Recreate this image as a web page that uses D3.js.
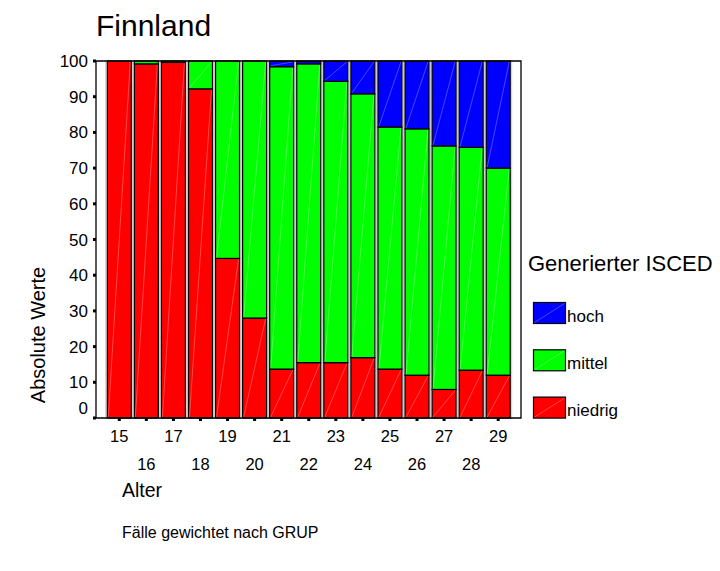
<!DOCTYPE html>
<html>
<head>
<meta charset="utf-8">
<script src="https://cdn.jsdelivr.net/npm/d3@7"></script>
<style>
  html, body { margin: 0; padding: 0; background: #fff; }
  svg { display: block; font-family: "Liberation Sans", Arial, sans-serif; }
</style>
</head>
<body>
<svg id="chart" width="720" height="571"></svg>
<script>
// ---- data ----
const ages = ["15","16","17","18","19","20","21","22","23","24","25","26","27","28","29"];
const niedrig = [100, 99.2, 99.6, 92.2, 44.7, 28.0, 13.7, 15.5, 15.5, 16.9, 13.7, 12.0, 8.0, 13.4, 12.0];
const mittel  = [0,   0.8,  0.4,  7.8, 55.3, 72.0, 84.7, 83.7, 78.8, 73.9, 67.8, 69.0, 68.2, 62.4, 58.0];
const hoch    = [0,   0,    0,    0,    0,    0,    1.6,  0.8,  5.7,  9.2, 18.5, 19.0, 23.8, 24.2, 30.0];
const seriesNames = ["niedrig", "mittel", "hoch"];
const seriesColors = ["#ff0000", "#00ff00", "#0000ff"];
const yTicks = [0, 10, 20, 30, 40, 50, 60, 70, 80, 90, 100];

const table = ages.map((a, i) => ({ age: a, niedrig: niedrig[i], mittel: mittel[i], hoch: hoch[i] }));

const svg = d3.select("#chart");
const pLeft = 96, pRight = 521, pTop = 61, pBottom = 418;

const x = d3.scaleBand().domain(ages).range([105.75, 511.75]).paddingInner(0.114).paddingOuter(0.057);
const y = d3.scaleLinear().domain([0, 100]).range([pBottom, pTop]);

// Title
svg.append("text").attr("x", 96).attr("y", 36).attr("font-size", 30).attr("fill", "#000").text("Finnland");

// bar backgrounds (light grey halo)
svg.append("g").selectAll("rect").data(ages).join("rect")
  .attr("x", d => x(d) - 1.5).attr("y", pTop).attr("width", x.bandwidth() + 3).attr("height", pBottom - pTop)
  .attr("fill", "none").attr("stroke", "#c8c8c8").attr("stroke-width", 1);

const stack = d3.stack().keys(seriesNames)(table);
const gBars = svg.append("g");
stack.forEach((layer, li) => {
  const g = gBars.append("g");
  layer.forEach((seg, i) => {
    if (seg[1] - seg[0] <= 0) return;
    const x0 = x(ages[i]), w = x.bandwidth();
    const y0 = y(seg[1]), h = y(seg[0]) - y(seg[1]);
    g.append("rect").attr("x", x0).attr("y", y0).attr("width", w).attr("height", h)
      .attr("fill", seriesColors[li]).attr("stroke", "#000").attr("stroke-width", 1.2);
    if (h > 3) {
      g.append("line").attr("x1", x0 + 1).attr("y1", y0 + h - 1).attr("x2", x0 + w - 1).attr("y2", y0 + 1)
        .attr("stroke", "rgba(255,255,255,0.35)").attr("stroke-width", 0.8);
    }
  });
});

// frame
svg.append("path").attr("d", `M${pLeft},${pBottom}V${pTop}H${pRight}V${pBottom}Z`)
  .attr("fill", "none").attr("stroke", "#000").attr("stroke-width", 1.3);

// y axis ticks + labels
const yAxis = svg.append("g");
yTicks.forEach(t => {
  yAxis.append("rect").attr("x", pLeft - 3).attr("y", y(t) - 1.5).attr("width", 3).attr("height", 3).attr("fill", "#000");
  yAxis.append("text").attr("x", 88).attr("y", t === 0 ? y(t) - 4 : y(t) + 6)
    .attr("text-anchor", "end").attr("font-size", 17).attr("fill", "#000").text(t);
});

// x axis ticks + labels
const xAxis = svg.append("g");
ages.forEach((a, i) => {
  const cx = x(a) + x.bandwidth() / 2;
  xAxis.append("rect").attr("x", cx - 1.5).attr("y", pBottom).attr("width", 3).attr("height", 3).attr("fill", "#000");
  xAxis.append("text").attr("x", cx).attr("y", i % 2 === 0 ? 442 : 470)
    .attr("text-anchor", "middle").attr("font-size", 16.5).attr("fill", "#000").text(a);
});

// axis titles
svg.append("text").attr("transform", "translate(45,335) rotate(-90)").attr("text-anchor", "middle")
  .attr("font-size", 20).attr("fill", "#000").text("Absolute Werte");
svg.append("text").attr("x", 122).attr("y", 497).attr("font-size", 19.5).attr("fill", "#000").text("Alter");
svg.append("text").attr("x", 122).attr("y", 538).attr("font-size", 16).attr("fill", "#000").text("Fälle gewichtet nach GRUP");

// legend
svg.append("text").attr("x", 528).attr("y", 271).attr("font-size", 22).attr("fill", "#000").text("Generierter ISCED");
const legendOrder = [2, 1, 0];
legendOrder.forEach((si, k) => {
  const ly = 302.5 + k * 47.3;
  svg.append("rect").attr("x", 533.5).attr("y", ly).attr("width", 32).attr("height", 21)
    .attr("fill", seriesColors[si]).attr("stroke", "#000").attr("stroke-width", 1.2);
  svg.append("line").attr("x1", 534.5).attr("y1", ly + 20).attr("x2", 564.5).attr("y2", ly + 1)
    .attr("stroke", "rgba(255,255,255,0.35)").attr("stroke-width", 0.8);
  svg.append("text").attr("x", 567).attr("y", ly + 19).attr("font-size", 17).attr("fill", "#000").text(seriesNames[si]);
});
</script>
</body>
</html>
